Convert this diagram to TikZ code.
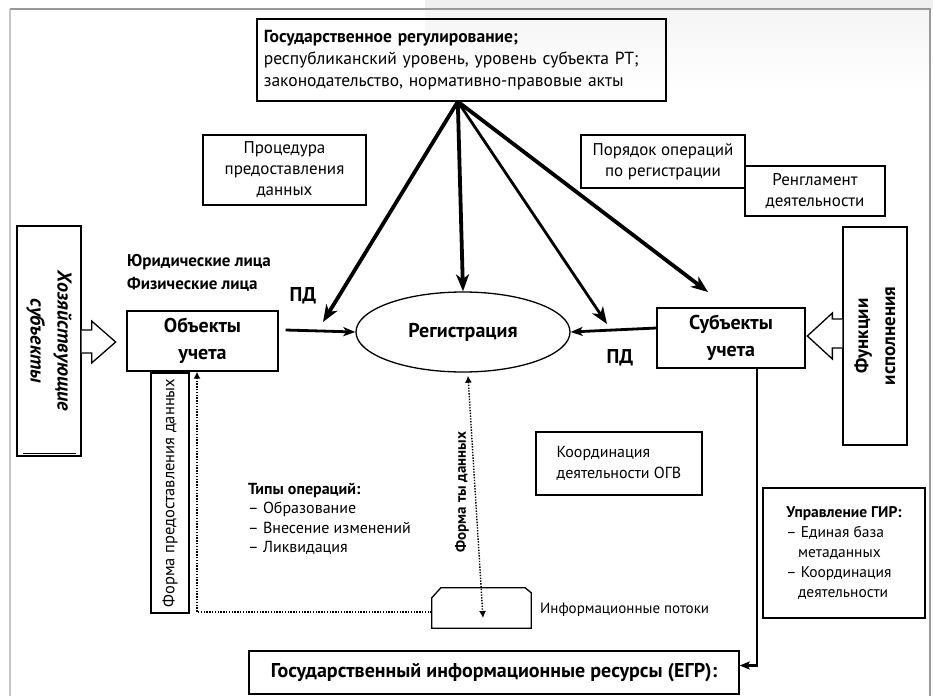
\documentclass[tikz,border=0pt]{standalone}
\usepackage{fontspec}
\setmainfont{PT Sans}
\usetikzlibrary{arrows.meta,calc,shapes.geometric}
\newcommand{\fsz}[2]{\fontsize{#1}{#2}\selectfont}
\begin{document}
\begin{tikzpicture}[x=1pt,y=-1pt,
  box/.style={draw, line width=1.3pt, inner sep=0pt, align=center},
  txt/.style={inner sep=0pt, align=left},
  bigarrow/.style={line width=3.8pt, -{Stealth[length=17pt,width=13pt,inset=5pt]}},
  medarrow/.style={line width=2.8pt, -{Stealth[length=12pt,width=9pt,inset=3pt]}},
  dotline/.style={line width=1.4pt, dash pattern=on 1.4pt off 1.4pt},
  hollow/.style={draw, line width=1.3pt, fill=white, line join=miter}
]
\useasboundingbox (0,0) rectangle (933,696);
\fill[white] (0,0) rectangle (933,696);
\fill[gray!12] (425,0) rectangle (933,9);
\shade[top color=gray!8, bottom color=white] (425,9) rectangle (930,90);
\draw[gray!45, line width=1.3pt] (10,696) -- (10,9);
\draw[gray!80, line width=1.3pt] (10,9) -- (930,9) -- (930,696);

% top box
\node[box, line width=1.6pt, anchor=north west, minimum width=409pt, minimum height=82pt,
      text width=395pt, align=left, inner xsep=7pt, font=\fsz{17.5}{22}] (gov) at (256,18)
  {\textbf{Государственное регулирование;}\\республиканский уровень, уровень субъекта РТ;\\законодательство, нормативно-правовые акты};

\node[box, minimum width=163pt, minimum height=70pt, font=\fsz{17}{21}] (proc) at (284.5,170)
  {Процедура\\предоставления\\данных};
\node[box, minimum width=164pt, minimum height=53pt, font=\fsz{17}{21}] (order) at (663,161.5)
  {Порядок операций\\по регистрации};
\node[box, minimum width=140pt, minimum height=50pt, font=\fsz{17}{21}] (regl) at (815,191)
  {Ренгламент\\деятельности};

% side boxes
\node[box, minimum width=64pt, minimum height=230pt] (hoz) at (49,341) {};
\node[txt, rotate=-90, align=center, font=\fsz{20}{27}\bfseries\itshape] (hozt) at (hoz.center)
  {Хозяйствующие\\субъекты};
\draw[line width=1.3pt] ($(hoz.south west)+(7,-3)$) -- ($(hoz.south east)+(-6,-3)$);

\node[box, minimum width=64pt, minimum height=218pt] (func) at (875,336) {};
\node[txt, rotate=90, align=center, font=\fsz{19}{27}\bfseries] (funct) at (func.center)
  {Функции\\исполнения};

% hollow arrows
\draw[hollow] ($(hoz.east)+(0,-11)$) -- ++(10,0) -- ++(0,-9) -- ($(hoz.east)+(34,1)$)
  -- ($(hoz.east)+(10,22)$) -- ++(0,-10) -- ($(hoz.east)+(0,12)$);
\draw[hollow] ($(func.west)+(0,-17)$) -- ++(-10,0) -- ++(0,-6) -- ($(func.west)+(-35,0)$)
  -- ($(func.west)+(-10,23)$) -- ++(0,-11) -- ($(func.west)+(0,12)$);

% main nodes
\node[box, minimum width=151pt, minimum height=60pt, font=\fsz{20}{27}\bfseries] (obj) at (202.5,341)
  {Объекты\\учета};
\node[box, minimum width=148pt, minimum height=60pt, font=\fsz{20}{27}\bfseries] (subj) at (731,338)
  {Субъекты\\учета};
\node[draw, ellipse, line width=1.3pt, inner sep=0pt, minimum width=214pt, minimum height=80pt,
      font=\fsz{20}{24}\bfseries] (reg) at (463,332) {Регистрация};

\node[txt, anchor=west, font=\fsz{17}{20}\bfseries] (yur) at (127,262) {Юридические лица};
\node[txt, anchor=west, font=\fsz{17}{20}\bfseries] (fiz) at (127,284) {Физические лица};
\node[txt, font=\fsz{20}{22}\bfseries] (pd1) at (303,296) {ПД};
\node[txt, font=\fsz{20}{22}\bfseries] (pd2) at (620,358) {ПД};

% lower boxes
\node[box, minimum width=240pt, minimum height=38pt, rotate=90, font=\fsz{16.5}{19}] (forma) at (170,493)
  {Форма предоставления данных};
\node[box, minimum width=166pt, minimum height=63pt, font=\fsz{16}{21}] (coord) at (619,463.5)
  {\begin{tabular}{@{}l@{}}Координация\\деятельности ОГВ\end{tabular}};
\node[box, line width=1.6pt, minimum width=162pt, minimum height=130pt, font=\fsz{15.5}{20}] (upr) at (844,553)
  {\begin{tabular}{@{}l@{}}\textbf{Управление ГИР:}\\– Единая база\\\hspace*{0.75em}метаданных\\– Координация\\\hspace*{0.75em}деятельности\end{tabular}};
\node[txt, anchor=north west, font=\fsz{16}{19.5}] (types) at (248,483)
  {\textbf{Типы операций:}\\– Образование\\– Внесение изменений\\– Ликвидация};

\node[minimum width=99pt, minimum height=40pt, inner sep=0pt] (info) at (481.5,608) {};
\draw[line width=1.3pt] ($(info.south west)$) -- ($(info.north west)+(0,10)$) -- ($(info.north west)+(9,0)$)
  -- ($(info.north east)+(-6,0)$) -- ($(info.north east)+(0,5)$) -- (info.south east) -- cycle;
\node[txt, anchor=west, font=\fsz{15}{18}] (infot) at (540,610) {Информационные потоки};

\node[box, minimum width=490pt, minimum height=43pt, font=\fsz{20}{24}\bfseries] (gir) at (494,672.5)
  {Государственный информационные ресурсы (ЕГР):};

% arrows from regulation
\coordinate (apex) at ($(gov.south)+(-3.5,0)$);
\coordinate (a1) at (323,322);
\coordinate (a3) at (607,324);
\coordinate (a4) at (708,292);
\draw[bigarrow] (apex) -- (a1);
\draw[bigarrow] (apex) -- (reg.north);
\draw[bigarrow, line width=2.8pt] (apex) -- (a3);
\draw[bigarrow] (apex) -- (a4);

\draw[medarrow] ($(obj.east)+(7,-11)$) -- (reg.west);
\draw[medarrow] ($(subj.west)+(0,-10)$) -- (reg.east);

% dotted arrows
\coordinate (dl) at (197,612);
\draw[dotline, -{Latex[length=7pt,width=7pt]}] ($(info.west)+(0,4)$) -- (dl) -- (dl |- obj.south);
\draw[dotline, {Latex[length=7pt,width=7pt]}-{Latex[length=7pt,width=7pt]}]
  ($(reg.south)+(5,3)$) -- ($(info.center)+(1.5,10)$);
\node[txt, rotate=90, font=\fsz{15}{18}\bfseries] (formty) at (462,492) {Форма ты данных};

% subjects to GIR
\draw[line width=2.6pt, -{Stealth[length=10pt,width=8pt,inset=2pt]}]
  ($(subj.south)+(26,0)$) |- ($(gir.east)+(0,-7)$);
\end{tikzpicture}
\end{document}
